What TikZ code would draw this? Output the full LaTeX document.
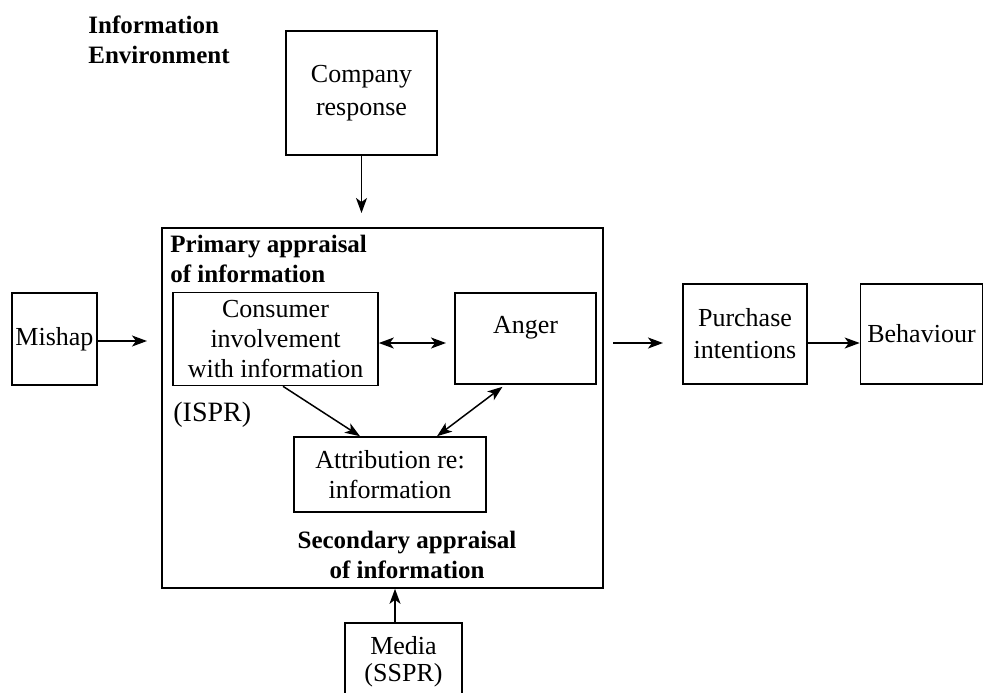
\documentclass[tikz,border=0pt]{standalone}
\usepackage{fontspec}
\setmainfont{Liberation Serif}
\usetikzlibrary{arrows.meta,calc}
\begin{document}
\begin{tikzpicture}[x=0.5pt,y=-0.5pt,
  box/.style={draw, line width=0.8pt, inner sep=0pt, align=center, font=\fontsize{13}{15}\selectfont},
  txt/.style={inner sep=0pt, font=\fontsize{13}{15}\selectfont},
  hd/.style={inner sep=0pt, font=\fontsize{12.5}{15}\selectfont\bfseries},
  arr/.style={line width=0.75pt, -{Stealth[length=7.5pt,width=5.5pt,inset=2pt]}},
  darr/.style={line width=0.75pt, {Stealth[length=7.5pt,width=5.5pt,inset=2pt]}-{Stealth[length=7.5pt,width=5.5pt,inset=2pt]}}]
\clip (0,0) rectangle (985,692);
\fill[white] (0,0) rectangle (985,692);

% headings
\node[hd, anchor=west, align=left] (envlbl) at (88,40) {Information\\Environment};
\node[hd, anchor=west, align=left] (primlbl) at (170,259) {Primary appraisal\\of information};
\node[hd, align=center] (seclbl) at (407,555) {Secondary appraisal\\of information};
\node[txt, anchor=west, font=\fontsize{14}{16}\selectfont] (ispr) at (173,415) {(ISPR)};

% boxes
\node[box, minimum width=75.5pt, minimum height=62pt, font=\fontsize{13}{16.5}\selectfont] (comp) at (361.5,93) {Company\\response};
\node[box, minimum width=220.5pt, minimum height=180pt] (outer) at (382.5,408) {};
\node[box, minimum width=102.5pt, minimum height=46.5pt] (cons) at (275.5,339) {Consumer\\involvement\\with information};
\node[box, minimum width=70.5pt, minimum height=45.5pt] (anger) at (525.5,338.5) {};
\node[txt] (angerlbl) at (525.5,328) {Anger};
\node[box, minimum width=96pt, minimum height=37.5pt] (attr) at (390,474.5) {Attribution re:\\information};
\node[box, minimum width=58.5pt, minimum height=38.5pt, font=\fontsize{13}{13.5}\selectfont] (media) at (403.5,661.5) {Media\\(SSPR)};
\node[box, minimum width=42.5pt, minimum height=46pt] (mishap) at (54.5,339) {Mishap};
\node[box, minimum width=62pt, minimum height=50pt, font=\fontsize{13}{16}\selectfont] (purch) at (745,334) {Purchase\\intentions};
\node[box, minimum width=61pt, minimum height=50pt] (behav) at (921.5,334) {Behaviour};

% free ends
\coordinate (compend) at (361.5,213);
\coordinate (mishend) at (147,341);
\coordinate (angend) at (446,343);
\coordinate (outstart) at (613,343);
\coordinate (outend) at (663,343);

% connectors
\draw[arr] (comp.south) -- (compend);
\draw[arr] (mishap.east |- mishend) -- (mishend);
\draw[darr] (cons.east |- angend) -- (angend);
\draw[arr] ($(cons.south)+(7.5,0)$) -- ($(attr.north)+(-30,0)$);
\draw[darr] ($(attr.north)+(47,0)$) -- ($(anger.south)+(-23,2)$);
\draw[arr] ($(media.north)+(-8.5,0)$) -- ($(outer.south)+(12.5,0)$);
\draw[arr] (outstart) -- (outend);
\draw[arr] (purch.east |- outend) -- (behav.west |- outend);
\end{tikzpicture}
\end{document}
